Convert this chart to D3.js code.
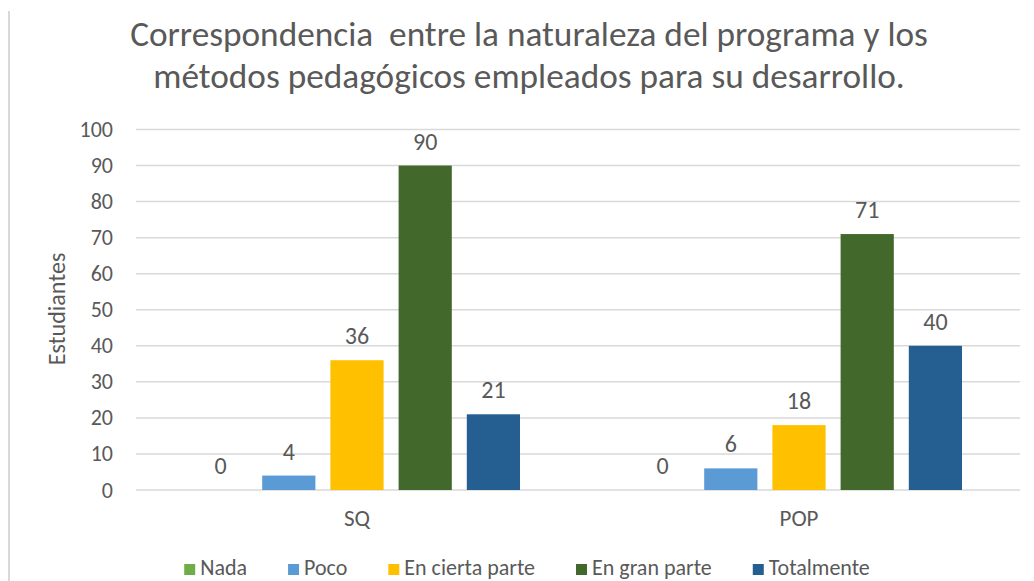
<!DOCTYPE html>
<html>
<head>
<meta charset="utf-8">
<script src="https://cdn.jsdelivr.net/npm/d3@7"></script>
<style>
  body { margin: 0; background: #fff; }
  text { font-family: Carlito, Calibri, Lato, "Open Sans", sans-serif; fill: #595959; }
</style>
</head>
<body>
<div id="chart"></div>
<script>
// chart data
var categories = ["SQ", "POP"];
var seriesNames = ["Nada", "Poco", "En cierta parte", "En gran parte", "Totalmente"];
var seriesColors = ["#70ad47", "#5b9bd5", "#ffc000", "#43682b", "#255e91"];
var nada = [0, 0];
var poco = [4, 6];
var enCiertaParte = [36, 18];
var enGranParte = [90, 71];
var totalmente = [21, 40];
var yTicks = [0, 10, 20, 30, 40, 50, 60, 70, 80, 90, 100];
var titleLines = ["Correspondencia  entre la naturaleza del programa y los",
                  "métodos pedagógicos empleados para su desarrollo."];
var yTitle = "Estudiantes";

var seriesValues = [nada, poco, enCiertaParte, enGranParte, totalmente];

var width = 1034, height = 581;
var margin = {top: 129.5, right: 14, bottom: 91, left: 136};
var dims = {width: width - margin.left - margin.right, height: height - margin.top - margin.bottom};

var svg = d3.select("#chart")
  .append("svg")
    .attr("width", width)
    .attr("height", height);

// left border of the chart frame
svg.append("line")
  .attr("x1", 9).attr("x2", 9)
  .attr("y1", 11).attr("y2", height)
  .attr("stroke", "#d9d9d9")
  .attr("stroke-width", 2);

var g = svg.append("g")
  .attr("transform", "translate(" + margin.left + "," + margin.top + ")");

// scales
var x0 = d3.scaleBand()
  .domain(categories)
  .range([0, dims.width]);
var x1 = d3.scaleBand()
  .domain(seriesNames)
  .range([58, x0.bandwidth() - 58])
  .paddingInner(0.22);
var y = d3.scaleLinear()
  .domain([0, 100])
  .range([dims.height, 0]);
var color = d3.scaleOrdinal().domain(seriesNames).range(seriesColors);

// gridlines
g.selectAll(".grid")
  .data(yTicks)
  .enter()
  .append("line")
    .attr("x1", 0)
    .attr("x2", dims.width)
    .attr("y1", function(d) { return y(d); })
    .attr("y2", function(d) { return y(d); })
    .attr("stroke", "#d9d9d9")
    .attr("stroke-width", 1.5);

// y axis labels
var yAxis = g.append("g")
  .call(d3.axisLeft(y).tickValues(yTicks).tickSize(0).tickPadding(23));
yAxis.select(".domain").remove();
yAxis.selectAll("text")
  .style("font-size", "22px")
  .attr("fill", "#595959");

// x axis labels
var xAxis = g.append("g")
  .attr("transform", "translate(0," + dims.height + ")")
  .call(d3.axisBottom(x0).tickSize(0).tickPadding(20));
xAxis.select(".domain").remove();
xAxis.selectAll("text")
  .style("font-size", "23px")
  .attr("fill", "#595959");

// bars
var rows = [];
categories.forEach(function(cat, i) {
  seriesNames.forEach(function(s, j) {
    rows.push({category: cat, series: s, value: seriesValues[j][i]});
  });
});

g.selectAll(".bar")
  .data(rows)
  .enter()
  .append("rect")
    .attr("x", function(d) { return x0(d.category) + x1(d.series); })
    .attr("y", function(d) { return y(d.value); })
    .attr("width", x1.bandwidth())
    .attr("height", function(d) { return dims.height - y(d.value); })
    .attr("fill", function(d) { return color(d.series); });

// value labels
g.selectAll(".label")
  .data(rows)
  .enter()
  .append("text")
    .attr("x", function(d) { return x0(d.category) + x1(d.series) + x1.bandwidth() / 2; })
    .attr("y", function(d) { return y(d.value) - 16; })
    .attr("text-anchor", "middle")
    .style("font-size", "24px")
    .text(function(d) { return d.value; });

// y axis title
svg.append("text")
  .attr("transform", "translate(65,309) rotate(-90)")
  .attr("text-anchor", "middle")
  .style("font-size", "24px")
  .text(yTitle);

// title, sized to the width of the original
var title = svg.append("g");
title.selectAll("text")
  .data(titleLines)
  .enter()
  .append("text")
    .attr("x", 529)
    .attr("y", function(d, i) { return 46 + i * 42; })
    .attr("text-anchor", "middle")
    .style("white-space", "pre")
    .style("font-size", "32px")
    .text(function(d) { return d; });
var t0 = title.select("text").node();
var fitSize = 32 * 798 / t0.getComputedTextLength();
title.selectAll("text").style("font-size", fitSize + "px");

// legend
var legend = svg.append("g");
var items = legend.selectAll("g")
  .data(seriesNames)
  .enter()
  .append("g");
items.append("rect")
  .attr("width", 11)
  .attr("height", 11)
  .attr("y", -11)
  .attr("fill", function(d) { return color(d); });
items.append("text")
  .attr("x", 16)
  .style("font-size", "22px")
  .text(function(d) { return d; });
var pos = 0;
items.each(function() {
  d3.select(this).attr("transform", "translate(" + pos + ",0)");
  pos += 16 + d3.select(this).select("text").node().getComputedTextLength() + 41;
});
var legendWidth = pos - 41;
legend.attr("transform", "translate(" + (527 - legendWidth / 2) + ",575)");
</script>
</body>
</html>
